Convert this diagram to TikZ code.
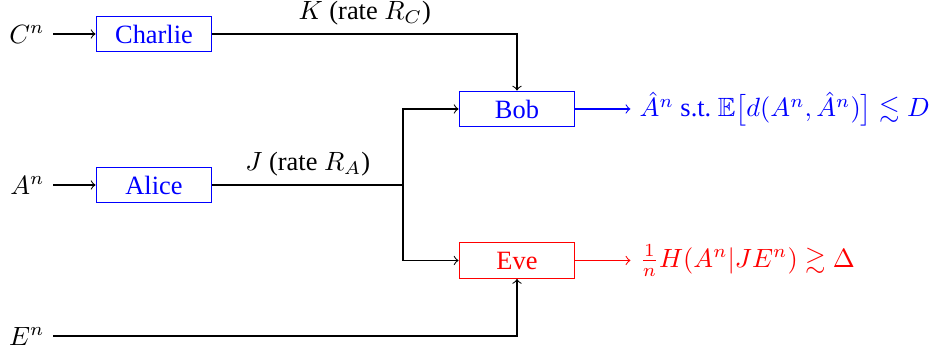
\documentclass[tikz,border=0pt]{standalone}
\usepackage{fontspec}
\setmainfont{Liberation Serif}
\usepackage{amssymb}
\usepackage{amsmath}
\usepackage{tikz}
\usetikzlibrary{arrows,calc,positioning}

\begin{document}
\begin{tikzpicture}[x=0.3788pt,y=-0.3788pt,
  box/.style={draw,minimum width=43.9pt,minimum height=13.6pt,inner sep=0pt},
  quelle/.style={anchor=east,inner sep=3pt}]
%Koordinaten in Pixeln des Bildes, y zeigt nach unten
\useasboundingbox (0,0) rectangle (938,354);
% Kaesten
\node[box,blue] (charlie) at (154,34) {Charlie};
\node[box,blue] (alice) at (154,185) {Alice};
\node[box,blue] (bob) at (517,109) {Bob};
\node[box,red] (eve) at (517,260.5) {Eve};
% Quellen
\node[quelle] (cn) at (53,34) {$C^n$};
\node[quelle] (an) at (53,185) {$A^n$};
\node[quelle] (en) at (53,336) {$E^n$};
\coordinate (split) at (403,185);
% Ausgaben
\node[blue,right=20.8pt of bob] (bobout) {$\hat{A}^n$ \text{s.t.} $\mathbb{E}\big[d(A^n,\hat{A}^n)\big]\lesssim D$};
\node[red,right=20.8pt of eve] (eveout) {$\frac{1}{n}H(A^n|JE^n)\gtrsim\Delta$};
% Verbindungen
\draw[->] (cn) -- (charlie);
\draw[->] (an) -- (alice);
\draw[->] (charlie.east) -| node[pos=0.25,above] {$K$ (rate $R_C$)} (bob.north);
\draw (alice.east) -- node[above] {$J$ (rate $R_A$)} (split);
\draw[->] (split) |- (bob.west);
\draw[->] (split) |- (eve.west);
\draw[->] (en.east) -| (eve.south);
\draw[->,blue] (bob) -- (bobout);
\draw[->,red] (eve) -- (eveout);
\end{tikzpicture}
\end{document}
